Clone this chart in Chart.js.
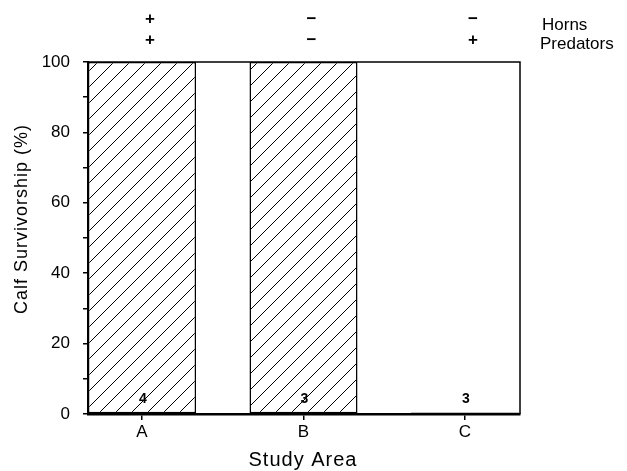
<!DOCTYPE html>
<html>
<head>
<meta charset="utf-8">
<script src="https://cdn.jsdelivr.net/npm/chart.js@4"></script>
<style>
  html, body { margin: 0; padding: 0; background: #fff; }
  #wrap { width: 627px; height: 471px; }
</style>
</head>
<body>
<div id="wrap"><canvas id="survChart" width="627" height="471"></canvas></div>
<script>
// Calf survivorship by study area
const areas = ["A", "B", "C"];
const areaPos = [1, 2, 3];
const survival = [100, 100, 0.4];
const sampleSizes = [4, 3, 3];
const hatched = [true, true, false];
const hornsRow = ["+", "\u2212", "\u2212"];
const predatorsRow = ["+", "\u2212", "+"];
const rowNames = ["Horns", "Predators"];
const yTicks = [0, 20, 40, 60, 80, 100];

const FONT = "'Liberation Sans', Arial, sans-serif";

// diagonal hatch fill
function makeHatch() {
  const c = document.createElement("canvas");
  c.width = 16; c.height = 16;
  const g = c.getContext("2d");
  g.fillStyle = "#fff";
  g.fillRect(0, 0, 16, 16);
  g.strokeStyle = "#000";
  g.lineWidth = 1;
  g.beginPath();
  g.moveTo(-1, 17); g.lineTo(17, -1);
  g.moveTo(-17, 17); g.lineTo(1, -1);
  g.moveTo(15, 17); g.lineTo(33, -1);
  g.stroke();
  return document.getElementById("survChart").getContext("2d").createPattern(c, "repeat");
}
const hatch = makeHatch();

const framePlugin = {
  id: "frame",
  afterDatasetsDraw(chart) {
    const { ctx, chartArea: a, scales } = chart;
    ctx.save();
    ctx.strokeStyle = "#000";
    ctx.lineWidth = 1.5;
    ctx.beginPath();
    ctx.moveTo(a.left, a.top);
    ctx.lineTo(a.right, a.top);
    ctx.lineTo(a.right, a.bottom);
    ctx.stroke();

    // sample sizes inside bars
    const meta = chart.getDatasetMeta(0);
    ctx.fillStyle = "#000";
    ctx.font = "bold 14px " + FONT;
    ctx.textAlign = "center";
    ctx.textBaseline = "middle";
    meta.data.forEach((el, i) => {
      ctx.fillText(String(sampleSizes[i]), el.x + 1, scales.y.getPixelForValue(0) - 15);
    });

    // treatment rows above the plot
    ctx.font = "bold 17px " + FONT;
    areaPos.forEach((p, i) => {
      const x = scales.x.getPixelForValue(p) + 8;
      ctx.fillText(hornsRow[i], x, 19);
      ctx.fillText(predatorsRow[i], x, 40);
    });
    ctx.font = "17px " + FONT;
    ctx.textAlign = "left";
    ctx.fillText(rowNames[0], a.right + 22, 25);
    ctx.fillText(rowNames[1], a.right + 20, 44);

    // axis titles
    ctx.letterSpacing = "1px";
    ctx.font = "20px " + FONT;
    ctx.textAlign = "center";
    ctx.fillText("Study Area", (a.left + a.right) / 2 - 1, 460);
    ctx.translate(22, (a.top + a.bottom) / 2 - 19);
    ctx.rotate(-Math.PI / 2);
    ctx.font = "18px " + FONT;
    ctx.fillText("Calf Survivorship (%)", 0, 0);
    ctx.restore();
  }
};

new Chart(document.getElementById("survChart"), {
  type: "bar",
  data: {
    datasets: [{
      data: areaPos.map((p, i) => ({ x: p, y: survival[i] })),
      backgroundColor: hatched.map(h => h ? hatch : "#fff"),
      borderColor: "#000",
      borderWidth: 1.5,
      borderSkipped: false,
      barPercentage: 0.669,
      categoryPercentage: 1
    }]
  },
  options: {
    responsive: false,
    animation: false,
    layout: { padding: { top: 62, right: 107, left: 0, bottom: 0 } },
    plugins: { legend: { display: false }, tooltip: { enabled: false } },
    scales: {
      x: {
        type: "linear",
        offset: false,
        min: 0.6656,
        max: 3.3406,
        afterBuildTicks: s => { s.ticks = areaPos.map(v => ({ value: v })); },
        afterFit: s => { s.height = 57; },
        ticks: {
          callback: v => areas[areaPos.indexOf(v)] || "",
          color: "#000",
          font: { family: FONT, size: 17 },
          padding: 2,
          maxRotation: 0
        },
        grid: { offset: false, drawOnChartArea: false, color: "#000", lineWidth: 1.5, tickLength: 6 },
        border: { color: "#000", width: 2.5 }
      },
      y: {
        min: 0,
        max: 100,
        afterFit: s => { s.width = 88; },
        ticks: {
          stepSize: 10,
          callback: v => yTicks.includes(v) ? v : "",
          color: "#000",
          font: { family: FONT, size: 17 },
          padding: 13
        },
        grid: { drawOnChartArea: false, color: "#000", lineWidth: 1.5, tickLength: 5 },
        border: { color: "#000", width: 2 }
      }
    }
  },
  plugins: [framePlugin]
});
</script>
</body>
</html>
